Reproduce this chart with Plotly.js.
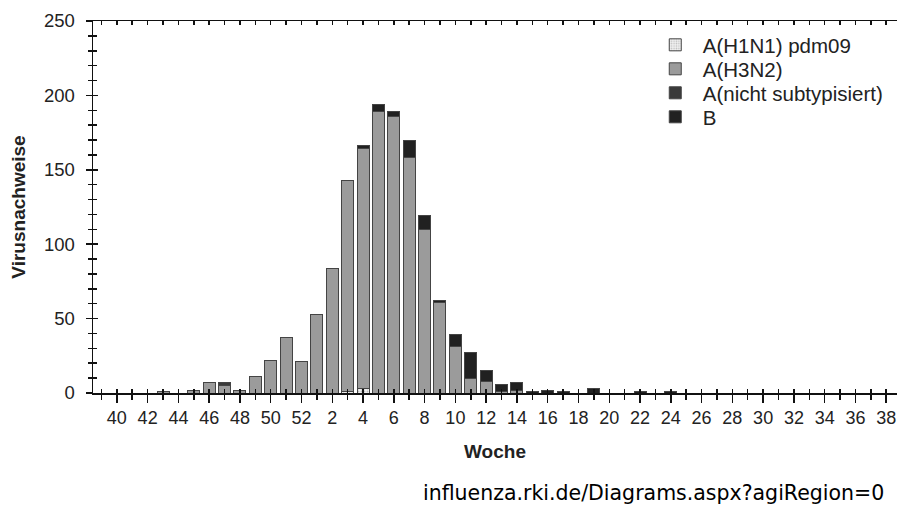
<!DOCTYPE html>
<html>
<head>
<meta charset="utf-8">
<script src="https://cdn.plot.ly/plotly-3.0.1.min.js"></script>
<style>html,body{margin:0;padding:0;background:#fff;}#chart{width:897px;height:508px;}</style>
</head>
<body>
<div id="chart"></div>
<script>
// Kalenderwochen der Saison (40 .. 52, 1 .. 39)
const weeks = [40,41,42,43,44,45,46,47,48,49,50,51,52,
  1,2,3,4,5,6,7,8,9,10,11,12,13,14,15,16,17,18,19,20,
  21,22,23,24,25,26,27,28,29,30,31,32,33,34,35,36,37,38,39];

const h1n1 = [0,0,0,0,0,0,0,0,0,0,0,0,0,
  0,0,1,3,0,0,0,0,0,0,0,0,0,0,0,0,0,0,0,0,
  0,0,0,0,0,0,0,0,0,0,0,0,0,0,0,0,0,0,0];
const h3n2 = [0,0,0,1,0,2,7,5,2,11,22,37,21,
  53,84,142,161,189,186,158,110,61,31,10,8,1,2,0,0,0,0,0,0,
  0,0,0,0,0,0,0,0,0,0,0,0,0,0,0,0,0,0,0];
const aNicht = [0,0,0,0,0,0,0,2,0,0,0,0,0,
  0,0,0,0,0,0,0,0,0,0,0,0,0,0,0,0,0,0,0,0,
  0,0,0,0,0,0,0,0,0,0,0,0,0,0,0,0,0,0,0];
const fluB = [0,0,0,0,0,0,0,0,0,0,0,0,0,
  0,0,0,2,5,3,12,9,1,8,17,7,5,5,1,2,1,0,3,0,
  0,1,0,1,0,0,0,0,0,0,0,0,0,0,0,0,0,0,0];

const seriesNames = ["A(H1N1) pdm09","A(H3N2)","A(nicht subtypisiert)","B"];
const seriesColors = ["#ececec","#9b9b9b","#3a3a3a","#212121"];
const seriesData = [h1n1,h3n2,aNicht,fluB];
const legendIds = ['legend','legend2','legend3','legend4'];

const idx = weeks.map((w,i)=>i);
const tickIdx = idx.filter(i=>i%2===0);
const tickTxt = tickIdx.map(i=>String(weeks[i]));

const traces = seriesData.map((d,k)=>({
  type:'bar', x:idx, y:d, name:seriesNames[k], legend:legendIds[k],
  marker:{color:seriesColors[k], line:{color:'#444', width:1},
    pattern: k===0 ? {shape:'.', fgcolor:'#bdbdbd', bgcolor:'#f2f2f2', size:3, solidity:0.3} : undefined},
  width:0.78, hoverinfo:'x+y+name'
}));
traces.push({type:'scatter', x:[], y:[], xaxis:'x2', yaxis:'y2', showlegend:false, hoverinfo:'skip'});

const fontMain = 'Liberation Sans, Arial, sans-serif';
const legendY = [0.9355, 0.871, 0.8065, 0.742];
const mkLegend = (y)=>({x:0.69, y:y, xanchor:'left', yanchor:'middle', bgcolor:'rgba(0,0,0,0)',
    font:{family:fontMain, size:20.5, color:'#222'}, itemwidth:45, traceorder:'normal'});

const layout = {
  width:897, height:508,
  margin:{l:93, r:0, t:21, b:115},
  paper_bgcolor:'#fff', plot_bgcolor:'#fff',
  barmode:'stack', bargap:0.22,
  showlegend:true,
  legend:mkLegend(legendY[0]), legend2:mkLegend(legendY[1]),
  legend3:mkLegend(legendY[2]), legend4:mkLegend(legendY[3]),
  font:{family:fontMain, color:'#222'},
  xaxis:{range:[-1.55,50.7], tickmode:'array', tickvals:tickIdx, ticktext:tickTxt,
    ticks:'outside', ticklen:8, tickwidth:1.5, tickcolor:'#111',
    minor:{tickmode:'linear', tick0:-1, dtick:1, ticks:'outside', ticklen:5, tickcolor:'#111', tickwidth:1.5},
    showline:true, linecolor:'#111', linewidth:1.5, showgrid:false, zeroline:false,
    tickfont:{family:fontMain, size:18, color:'#222'},
    title:{text:'<b>Woche</b>', font:{family:fontMain, size:19, color:'#222'}, standoff:17}},
  yaxis:{range:[0,250], tickmode:'linear', tick0:0, dtick:50,
    ticks:'outside', ticklen:6, tickwidth:1.5, tickcolor:'#111',
    minor:{tickmode:'linear', dtick:10, ticks:'outside', ticklen:4, tickcolor:'#111', tickwidth:1.5},
    showline:true, linecolor:'#111', linewidth:1.5, showgrid:false, zeroline:false,
    ticklabelstandoff:7,
    tickfont:{family:fontMain, size:18.5, color:'#222'},
    title:{text:'<b>Virusnachweise</b>', font:{family:fontMain, size:19, color:'#222'}, standoff:13}},
  xaxis2:{overlaying:'x', matches:'x', anchor:'y', side:'bottom', tickmode:'array', tickvals:tickIdx,
    ticks:'inside', ticklen:4, tickwidth:1.5, tickcolor:'#111', mirror:'allticks', showline:true, linecolor:'#111', linewidth:1.5,
    minor:{tickmode:'linear', tick0:-1, dtick:1, ticks:'inside', ticklen:4, tickcolor:'#111', tickwidth:1.5},
    showticklabels:false, showgrid:false, zeroline:false},
  yaxis2:{overlaying:'y', matches:'y', anchor:'x', side:'left', tickmode:'linear', tick0:0, dtick:50,
    ticks:'inside', ticklen:5, tickwidth:1.5, tickcolor:'#111',
    minor:{tickmode:'linear', dtick:10, ticks:'inside', ticklen:4, tickcolor:'#111', tickwidth:1.5},
    showticklabels:false, showgrid:false, zeroline:false, showline:false},
  annotations:[{xref:'paper', yref:'paper', x:0.986, y:-0.27, xanchor:'right', yanchor:'middle',
    text:'influenza.rki.de/Diagrams.aspx?agiRegion=0', showarrow:false,
    font:{family:'DejaVu Sans, Verdana, sans-serif', size:20.5, color:'#000'}}]
};

Plotly.newPlot('chart', traces, layout, {displayModeBar:false, staticPlot:true});
</script>
</body>
</html>
